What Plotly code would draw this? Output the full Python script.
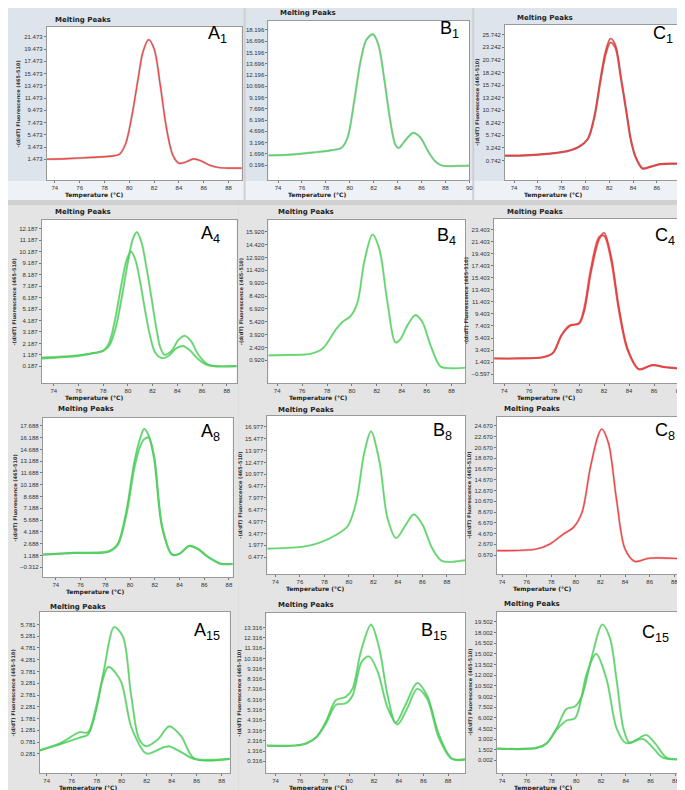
import plotly.graph_objects as go

W, H = 685, 790

# ---- data (temperature in degC, -(d/dT) fluorescence) ----
A1_T = [73.3, 75, 77, 78.5, 79.2, 79.7, 80.2, 80.7, 81.1, 81.55, 82.0, 82.5, 83.0, 83.5, 84.0, 84.5, 85.2, 85.8, 86.5, 87.2, 88, 89.1]
A1_Y = [1.5, 1.6, 1.8, 2.0, 2.3, 4.0, 8.5, 14.5, 19.0, 21.0, 19.5, 13.5, 6.5, 2.2, 0.85, 1.0, 1.55, 1.2, 0.5, 0.15, 0.05, 0.05]

B1_T = [73.2, 75, 77, 78.5, 79.3, 79.8, 80.4, 80.9, 81.4, 81.95, 82.4, 82.9, 83.4, 83.8, 84.1, 84.6, 85.3, 85.9, 86.5, 87.1, 87.7, 89, 90]
B1_Y = [1.5, 1.6, 1.9, 2.2, 2.5, 3.8, 9.0, 14.0, 16.9, 17.6, 16.2, 11.5, 6.0, 3.0, 2.5, 3.4, 4.5, 3.9, 2.2, 0.8, 0.15, 0.1, 0.15]

C1_T = [73.25, 75, 77, 78.5, 79.5, 80.2, 80.75, 81.3, 81.7, 82.1, 82.5, 83.0, 83.5, 83.8, 84.2, 84.8, 85.5, 86.3, 87.5, 88.7]
C1_Y1 = [1.7, 1.75, 2.1, 2.6, 3.5, 5.0, 9.5, 17.5, 22.5, 25.0, 23.8, 17.0, 9.5, 5.0, 1.5, -0.9, -0.5, 0.0, 0.1, 0.1]
C1_Y2 = [1.7, 1.75, 2.1, 2.6, 3.5, 5.0, 9.3, 17.0, 21.8, 24.2, 23.2, 16.8, 9.5, 5.0, 1.5, -0.8, -0.5, 0.0, 0.1, 0.1]

A4_T1 = [73, 75, 76, 77, 78, 78.5, 79, 79.5, 80, 80.4, 80.72, 81.1, 81.5, 81.9, 82.3, 82.6, 82.95, 83.5, 84.1, 84.6, 85.1, 85.7, 86.4, 87, 88.8]
A4_Y1 = [0.95, 1.05, 1.15, 1.3, 1.55, 2.0, 3.5, 6.2, 9.3, 11.3, 11.9, 11.0, 8.8, 6.2, 3.5, 1.9, 1.2, 1.5, 2.5, 2.85, 2.4, 1.2, 0.4, 0.2, 0.2]
A4_T2 = [73, 75, 76, 77, 78, 78.5, 79, 79.5, 79.9, 80.25, 80.6, 81.0, 81.4, 81.8, 82.2, 82.75, 83.3, 83.9, 84.45, 85.0, 85.6, 86.3, 87, 88.8]
A4_Y2 = [0.85, 1.0, 1.1, 1.3, 1.55, 2.3, 4.5, 7.5, 9.5, 10.2, 9.5, 7.5, 5.0, 2.8, 1.4, 0.9, 1.1, 1.75, 1.95, 1.6, 0.9, 0.35, 0.2, 0.2]

B4_T = [73.3, 75, 76.6, 77.65, 78.7, 79.25, 79.9, 80.45, 81.0, 81.65, 82.2, 82.85, 83.5, 83.9, 84.45, 85.1, 85.65, 86.3, 87.1, 87.8, 89.1]
B4_Y = [1.5, 1.55, 1.65, 2.3, 4.5, 5.4, 6.1, 7.7, 12.5, 15.6, 13.9, 7.7, 3.0, 3.4, 5.0, 6.2, 5.4, 2.7, 0.2, 0.0, 0.05]

C4_T = [73.2, 75, 77.1, 77.9, 78.6, 79.25, 80.0, 80.4, 80.95, 81.6, 82.0, 82.55, 83.2, 83.9, 84.8, 85.85, 86.9, 88.8]
C4_Y1 = [2.0, 2.0, 2.2, 2.9, 5.9, 7.5, 7.8, 9.8, 16.3, 21.8, 22.9, 19.1, 10.3, 3.5, 0.2, 0.9, 0.55, 0.2]
C4_Y2 = [2.0, 2.0, 2.2, 2.9, 5.9, 7.4, 7.9, 10.3, 17.0, 22.2, 22.4, 18.5, 9.8, 3.3, 0.2, 0.9, 0.55, 0.2]

A8_T = [72.95, 75.5, 78.3, 79.0, 79.7, 80.35, 80.8, 81.15, 81.5, 81.95, 82.6, 83.4, 84.0, 84.8, 85.5, 86.3, 87.3, 88.3]
A8_Y1 = [1.3, 1.5, 1.7, 2.65, 6.8, 13.1, 16.0, 17.3, 16.5, 13.5, 4.7, 1.3, 1.4, 2.4, 2.0, 1.0, 0.15, 0.1]
A8_Y2 = [1.3, 1.5, 1.7, 2.5, 6.3, 12.3, 15.0, 16.0, 16.2, 13.8, 4.9, 1.3, 1.4, 2.4, 2.0, 1.0, 0.15, 0.1]

B8_T = [73.35, 76.25, 77.6, 78.95, 79.9, 80.6, 81.25, 81.8, 82.5, 83.15, 83.85, 84.65, 85.3, 86.0, 86.8, 87.6, 89.5]
B8_Y = [1.56, 1.8, 2.3, 3.3, 4.4, 7.5, 13.7, 16.4, 12.5, 5.4, 2.9, 4.6, 5.9, 4.6, 1.6, 0.0, 0.1]

C8_T = [73.6, 76.8, 77.9, 79.0, 79.8, 80.5, 81.15, 81.8, 82.1, 82.65, 83.3, 84.0, 84.8, 86.0, 89.3]
C8_Y = [1.5, 1.8, 2.75, 4.6, 5.8, 8.6, 16.6, 22.8, 24.1, 21.5, 11.1, 1.8, -0.5, 0.1, -0.1]

A15_T1 = [73.45, 75.15, 76.6, 77.3, 77.95, 78.6, 79.4, 80.1, 80.75, 81.4, 81.95, 82.9, 83.8, 84.75, 85.8, 88.64]
A15_Y1 = [0.43, 0.7, 0.97, 1.1, 2.13, 3.9, 5.67, 5.26, 2.8, 0.9, 0.61, 0.9, 1.45, 1.04, 0.09, 0.07]
A15_T2 = [73.45, 75.15, 76.6, 77.3, 77.95, 78.4, 78.9, 79.1, 79.95, 80.75, 81.8, 82.1, 83.4, 83.8, 84.75, 85.8, 88.64]
A15_Y2 = [0.43, 0.75, 1.2, 1.2, 2.27, 3.3, 3.97, 3.95, 3.35, 1.45, 0.36, 0.29, 0.57, 0.6, 0.36, 0.07, 0.07]

B15_T1 = [73.3, 76.2, 77.3, 78.1, 78.9, 79.7, 80.25, 80.95, 81.75, 82.4, 83.1, 83.75, 84.55, 85.5, 86.3, 87.25, 88.3, 89.4]
B15_Y1 = [1.85, 1.95, 2.65, 4.2, 6.26, 6.57, 7.36, 11.1, 13.6, 11.4, 6.7, 4.06, 5.8, 7.93, 6.7, 2.96, 0.6, 0.5]
B15_T2 = [73.3, 76.2, 77.3, 78.1, 78.9, 79.7, 80.25, 81.0, 81.6, 82.3, 83.1, 83.9, 84.7, 85.5, 86.3, 87.25, 88.3, 89.4]
B15_Y2 = [1.85, 1.95, 2.65, 4.0, 5.8, 5.95, 6.7, 10.0, 10.5, 9.0, 5.5, 3.9, 5.5, 7.36, 6.4, 2.6, 0.55, 0.5]

C15_T1 = [73.6, 76.8, 77.6, 78.4, 79.2, 79.9, 80.45, 81.25, 82.1, 82.7, 83.25, 83.8, 84.3, 84.85, 85.65, 86.45, 87.3, 89.1]
C15_Y1 = [1.65, 1.75, 2.4, 4.5, 7.24, 7.6, 9.07, 14.6, 19.14, 17.3, 11.36, 4.5, 2.43, 2.89, 3.57, 2.2, 0.37, 0.2]
C15_T2 = [73.6, 76.8, 77.6, 78.4, 79.2, 79.9, 80.85, 81.6, 82.45, 83.25, 84.0, 84.6, 85.4, 86.2, 87.0, 89.1]
C15_Y2 = [1.65, 1.75, 2.4, 4.3, 5.6, 5.95, 12.3, 15.0, 11.36, 4.5, 2.43, 2.65, 3.0, 1.75, 0.37, 0.2]

# y tick labels as printed by the instrument software
A1_TICKS = [1.473, 3.473, 5.473, 7.473, 9.473, 11.473, 13.473, 15.473, 17.473, 19.473, 21.473]
B1_TICKS = [0.196, 1.696, 3.196, 4.696, 6.196, 7.696, 9.196, 10.696, 12.196, 13.696, 15.196, 16.696, 18.196]
C1_TICKS = [0.742, 3.242, 5.742, 8.242, 10.742, 13.242, 15.742, 18.242, 20.742, 23.242, 25.742]
A4_TICKS = [0.187, 1.187, 2.187, 3.187, 4.187, 5.187, 6.187, 7.187, 8.187, 9.187, 10.187, 11.187, 12.187]
B4_TICKS = [0.920, 2.420, 3.920, 5.420, 6.920, 8.420, 9.920, 11.420, 12.920, 14.420, 15.920]
C4_TICKS = [-0.597, 1.403, 3.403, 5.403, 7.403, 9.403, 11.403, 13.403, 15.403, 17.403, 19.403, 21.403, 23.403]
A8_TICKS = [-0.312, 1.188, 2.688, 4.188, 5.688, 7.188, 8.688, 10.188, 11.688, 13.188, 14.688, 16.188, 17.688]
B8_TICKS = [0.477, 1.977, 3.477, 4.977, 6.477, 7.977, 9.477, 10.977, 12.477, 13.977, 15.477, 16.977]
C8_TICKS = [0.670, 2.670, 4.670, 6.670, 8.670, 10.670, 12.670, 14.670, 16.670, 18.670, 20.670, 22.670, 24.670]
A15_TICKS = [0.281, 0.781, 1.281, 1.781, 2.281, 2.781, 3.281, 3.781, 4.281, 4.781, 5.281, 5.781]
B15_TICKS = [0.316, 1.316, 2.316, 3.316, 4.316, 5.316, 6.316, 7.316, 8.316, 9.316, 10.316, 11.316, 12.316, 13.316]
C15_TICKS = [0.002, 1.502, 3.002, 4.502, 6.002, 7.502, 9.002, 10.502, 12.002, 13.502, 15.002, 16.502, 18.002, 19.502]
X_TICKS = [74, 76, 78, 80, 82, 84, 86, 88, 90]

RED, RED_DARK = '#ff3c3c', '#9a3030'
GREEN, GREEN_DARK = '#4fdc5e', '#2c9c3a'

# box = plot area in pixels (x0, y0, x1, y1)
panels = [
    dict(name='A', sub='1', box=(39, 19, 235, 172), xr=[73.35, 89.05], yr=[-1.89, 23.07], ticks=A1_TICKS,
         curves=[(A1_T, A1_Y)], col=RED, dark='#6a4040', head=(45, 12), lab=(199, 27), xt=(87, 187), yt=True),
    dict(name='B', sub='1', box=(262, 13, 464, 172), xr=[73.2, 90.0], yr=[-1.77, 19.38], ticks=B1_TICKS,
         curves=[(B1_T, B1_Y)], col=GREEN, dark='#3a6a48', head=(272, 5), lab=(433, 21), xt=(311, 187), yt=False),
    dict(name='C', sub='1', box=(500, 17, 685, 172), xr=[73.25, 88.7], yr=[-3.16, 27.7], ticks=C1_TICKS,
         curves=[(C1_T, C1_Y1), (C1_T, C1_Y2)], col=RED, dark='#6a4040', head=(510, 10), lab=(647, 27), xt=(548, 187), yt=True),
    dict(name='A', sub='4', box=(34, 212, 230, 375), xr=[73.03, 88.8], yr=[-1.27, 12.96], ticks=A4_TICKS,
         curves=[(A4_T1, A4_Y1), (A4_T2, A4_Y2)], col=GREEN, dark=GREEN_DARK, head=(45, 204), lab=(192, 227), xt=(87, 390), yt=True),
    dict(name='B', sub='4', box=(262, 212, 460, 375), xr=[73.3, 89.1], yr=[-1.73, 17.3], ticks=B4_TICKS,
         curves=[(B4_T, B4_Y)], col=GREEN, dark=GREEN_DARK, head=(270, 204), lab=(430, 228), xt=(312, 390), yt=True),
    dict(name='C', sub='4', box=(489, 211, 685, 375), xr=[73.2, 88.8], yr=[-2.08, 25.2], ticks=C4_TICKS,
         curves=[(C4_T, C4_Y1), (C4_T, C4_Y2)], col=RED, dark=RED_DARK, head=(500, 204), lab=(649, 228), xt=(541, 390), yt=True),
    dict(name='A', sub='8', box=(35, 410, 226, 569), xr=[72.95, 88.3], yr=[-1.56, 18.69], ticks=A8_TICKS,
         curves=[(A8_T, A8_Y1), (A8_T, A8_Y2)], col=GREEN, dark=GREEN_DARK, head=(48, 401), lab=(192, 424), xt=(88, 584), yt=True),
    dict(name='B', sub='8', box=(261, 408, 460, 566), xr=[73.35, 89.5], yr=[-1.65, 18.35], ticks=B8_TICKS,
         curves=[(B8_T, B8_Y)], col=GREEN, dark=GREEN_DARK, head=(270, 402), lab=(425, 423), xt=(309, 581), yt=True),
    dict(name='C', sub='8', box=(492, 409, 685, 566), xr=[73.6, 89.2], yr=[-2.84, 26.33], ticks=C8_TICKS,
         curves=[(C8_T, C8_Y)], col=RED, dark=RED_DARK, head=(497, 401), lab=(649, 423), xt=(537, 581), yt=True),
    dict(name='A', sub='15', box=(32, 604, 223, 765), xr=[73.45, 88.64], yr=[-0.53, 6.31], ticks=A15_TICKS,
         curves=[(A15_T1, A15_Y1), (A15_T2, A15_Y2)], col=GREEN, dark=GREEN_DARK, head=(40, 599), lab=(185, 623), xt=(80, 780), yt=True),
    dict(name='B', sub='15', box=(260, 605, 460, 765), xr=[73.27, 89.4], yr=[-0.82, 14.73], ticks=B15_TICKS,
         curves=[(B15_T1, B15_Y1), (B15_T2, B15_Y2)], col=GREEN, dark=GREEN_DARK, head=(270, 597), lab=(413, 623), xt=(312, 780), yt=True),
    dict(name='C', sub='15', box=(492, 604, 685, 765), xr=[73.6, 89.1], yr=[-1.78, 20.9], ticks=C15_TICKS,
         curves=[(C15_T1, C15_Y1), (C15_T2, C15_Y2)], col=GREEN, dark=GREEN_DARK, head=(497, 596), lab=(636, 625), xt=(538, 780), yt=True),
]

# background blocks behind each screenshot tile
blocks = [
    (0, 0, 237, 173, '#dde4ec'), (239, 0, 467, 173, '#dde4ec'), (469, 0, 685, 173, '#dde4ec'),
    (0, 173, 237, 192, '#eef1f5'), (239, 173, 467, 192, '#eef1f5'), (469, 173, 685, 192, '#eef1f5'),
    (0, 197, 232, 393, '#e4e4e4'), (232, 197, 457, 393, '#e4e4e4'), (457, 197, 685, 393, '#e4e4e4'),
    (0, 393, 232, 590, '#e4e4e4'), (232, 393, 457, 590, '#e4e4e4'), (457, 393, 685, 590, '#e4e4e4'),
    (0, 590, 232, 790, '#e4e4e4'), (232, 590, 457, 790, '#e4e4e4'), (457, 590, 685, 790, '#e4e4e4'),
]


def px(x):
    return x / W


def py(y):
    return 1 - y / H


fig = go.Figure()
layout = {}
annotations = []
shapes = []

for x0, y0, x1, y1, c in blocks:
    shapes.append(dict(type='rect', xref='paper', yref='paper', x0=px(x0), x1=px(x1), y0=py(y1), y1=py(y0),
                       fillcolor=c, line=dict(width=0), layer='below'))

tick_font = dict(size=6, color='#333', family='Liberation Sans')

for i, p in enumerate(panels):
    n = '' if i == 0 else str(i + 1)
    x0, y0, x1, y1 = p['box']
    shapes.append(dict(type='rect', xref='paper', yref='paper', x0=px(x0), x1=px(x1), y0=py(y1), y1=py(y0),
                       fillcolor='white', line=dict(width=0), layer='below'))
    layout['xaxis' + n] = dict(domain=[px(x0), px(x1)], range=p['xr'], anchor='y' + n,
                               tickvals=X_TICKS, ticks='outside', ticklen=2, tickcolor='#777',
                               showline=True, linecolor='#999', mirror=True, showgrid=False, zeroline=False,
                               tickfont=tick_font)
    layout['yaxis' + n] = dict(domain=[py(y1), py(y0)], range=p['yr'], anchor='x' + n,
                               tickvals=p['ticks'], tickformat='.3f', ticks='outside', ticklen=2, tickcolor='#777',
                               showline=True, linecolor='#999', mirror=True, showgrid=False, zeroline=False,
                               tickfont=tick_font)
    for t, y in p['curves']:
        fig.add_trace(go.Scatter(x=t, y=y, mode='lines', xaxis='x' + n, yaxis='y' + n, showlegend=False,
                                 line=dict(color=p['dark'], width=2.2, shape='spline', smoothing=0.9), opacity=0.4))
        fig.add_trace(go.Scatter(x=t, y=y, mode='lines', xaxis='x' + n, yaxis='y' + n, showlegend=False,
                                 line=dict(color=p['col'], width=1.1, shape='spline', smoothing=0.9)))

    annotations.append(dict(text='<b>Melting Peaks</b>', x=px(p['head'][0]), y=py(p['head'][1]),
                            xref='paper', yref='paper', xanchor='left', yanchor='middle', showarrow=False,
                            font=dict(size=7, color='#222', family='DejaVu Sans')))
    annotations.append(dict(text=p['name'] + '<sub>' + p['sub'] + '</sub>', x=px(p['lab'][0]), y=py(p['lab'][1]),
                            xref='paper', yref='paper', xanchor='left', yanchor='middle', showarrow=False,
                            font=dict(size=18, color='black', family='Liberation Sans')))
    annotations.append(dict(text='<b>Temperature (°C)</b>', x=px(p['xt'][0]), y=py(p['xt'][1]),
                            xref='paper', yref='paper', xanchor='center', yanchor='middle', showarrow=False,
                            borderpad=0, font=dict(size=6, color='#222', family='DejaVu Sans')))
    if p['yt']:
        annotations.append(dict(text='<b>-(d/dT) Fluorescence (465-510)</b>', x=px(max(x0 - 28, 5)),
                                y=py((y0 + y1) / 2), xref='paper', yref='paper', textangle=-90,
                                xanchor='center', yanchor='middle', showarrow=False,
                                font=dict(size=5, color='#333', family='DejaVu Sans')))

fig.update_layout(
    width=W, height=H,
    margin=dict(l=0, r=0, t=0, b=0),
    paper_bgcolor='#d0d0d0',
    plot_bgcolor='rgba(0,0,0,0)',
    shapes=shapes,
    annotations=annotations,
    **layout
)

fig.write_html("out.html")
